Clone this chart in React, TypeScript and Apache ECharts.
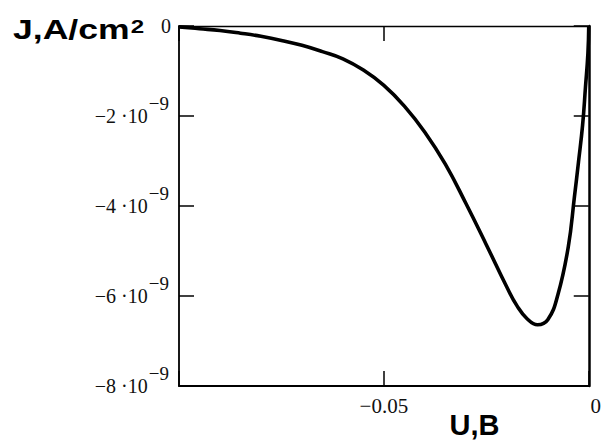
import React, { useEffect, useRef } from "react";
import * as echarts from "echarts";

// U, V
const xValues = [
  -0.1, -0.095, -0.09, -0.085, -0.08, -0.075, -0.07, -0.065, -0.06, -0.055,
  -0.05, -0.045, -0.04, -0.035, -0.03, -0.025, -0.02, -0.0175, -0.015, -0.0125,
  -0.01, -0.0075, -0.005, -0.0035, -0.0025, -0.0015, -0.0008, -0.0002, 0,
];
// J, in units of 1e-9 A/cm²
const jValues = [
  -0.02, -0.06, -0.1, -0.16, -0.23, -0.32, -0.43, -0.57, -0.73, -0.98,
  -1.32, -1.78, -2.36, -3.07, -3.94, -4.86, -5.8, -6.22, -6.51, -6.64,
  -6.53, -5.96, -4.91, -3.8, -3.02, -2.2, -1.36, -0.6, 0,
];
const yExponent = "−9";
const xTickLabels: Record<string, string> = { "-0.1": "", "-0.05": "−0.05", "0": "{z|0}" };

const SERIF = "Liberation Serif";
const SANS = "Liberation Sans";

export default function App() {
  const ref = useRef<HTMLDivElement>(null);
  useEffect(() => {
    if (!ref.current) return;
    const chart = echarts.init(ref.current, null, { renderer: "svg" });
    const yLabelRich = {
      m: { fontFamily: SERIF, fontSize: 20, color: "#111", lineHeight: 20, verticalAlign: "bottom" },
      s: { fontFamily: SERIF, fontSize: 19, color: "#111", lineHeight: 19, padding: [0, 2, 13, 1], verticalAlign: "bottom" },
    };
    const yFormatter = (v: number) => {
      const m = Math.round(v);
      if (m === 0) return "{m|0}";
      return `{m|−${Math.abs(m)} ·10}{s|${yExponent}}`;
    };
    const xFormatter = (v: number) => {
      const key = String(Math.round(v * 100) / 100);
      return xTickLabels[key] ?? "";
    };
    const tickStyle = { color: "#000", width: 1.5 };
    const option: any = {
      animation: false,
      grid: { left: 179, right: 6, top: 26, bottom: 55, containLabel: false },
      xAxis: [
        {
          type: "value", position: "bottom", min: -0.1, max: 0, interval: 0.05,
          axisLine: { onZero: false, lineStyle: { color: "#000", width: 1.8 } },
          axisTick: { inside: true, length: 15, lineStyle: tickStyle },
          splitLine: { show: false },
          axisLabel: {
            margin: 9, color: "#111", fontFamily: SERIF, fontSize: 21,
            formatter: xFormatter,
            rich: { z: { fontFamily: SERIF, fontSize: 21, color: "#111", padding: [0, 0, 0, 14] } },
          },
        },
        {
          type: "value", position: "top", min: -0.1, max: 0, interval: 0.05,
          axisLine: { onZero: false, lineStyle: { color: "#000", width: 1.3 } },
          axisTick: { inside: true, length: 15, lineStyle: tickStyle },
          splitLine: { show: false },
          axisLabel: { show: false },
        },
      ],
      yAxis: [
        {
          type: "value", position: "left", min: -8, max: 0, interval: 2,
          axisLine: { onZero: false, lineStyle: { color: "#000", width: 1.8 } },
          axisTick: { inside: true, length: 15, lineStyle: tickStyle },
          splitLine: { show: false },
          axisLabel: { margin: 8, formatter: yFormatter, rich: yLabelRich, align: "right" },
        },
        {
          type: "value", position: "right", min: -8, max: 0, interval: 2,
          axisLine: { onZero: false, lineStyle: { color: "#000", width: 2.5 } },
          axisTick: { inside: true, length: 15, lineStyle: tickStyle },
          splitLine: { show: false },
          axisLabel: { show: false },
        },
      ],
      series: [
        {
          type: "line",
          xAxisIndex: 0,
          yAxisIndex: 0,
          data: xValues.map((x, i) => [x, jValues[i]]),
          symbol: "none",
          smooth: 0.45,
          clip: true,
          lineStyle: { color: "#000", width: 3.6 },
        },
      ],
      graphic: [
        {
          type: "text",
          x: 13,
          y: 29,
          scaleX: 1.27,
          style: {
            text: "{a|J,A/cm}{b|2}",
            align: "left",
            verticalAlign: "middle",
            rich: {
              a: { fontFamily: SANS, fontSize: 28, fontWeight: "bold", fill: "#000", color: "#000", lineHeight: 28, verticalAlign: "bottom" },
              b: { fontFamily: SANS, fontSize: 19, fontWeight: "bold", fill: "#000", color: "#000", lineHeight: 19, padding: [0, 0, 7, 1], verticalAlign: "bottom" },
            },
          },
        },
        {
          type: "text",
          x: 474.5,
          y: 425,
          style: {
            text: "U,B",
            fontFamily: SANS,
            fontSize: 29,
            fontWeight: "bold",
            fill: "#000",
            align: "center",
            verticalAlign: "middle",
          },
        },
      ],
    };
    chart.setOption(option);
    return () => chart.dispose();
  }, []);
  return (
    <div
      ref={ref}
      style={{ position: "absolute", left: 0, top: 0, width: 604, height: 441, background: "#fff" }}
    />
  );
}
